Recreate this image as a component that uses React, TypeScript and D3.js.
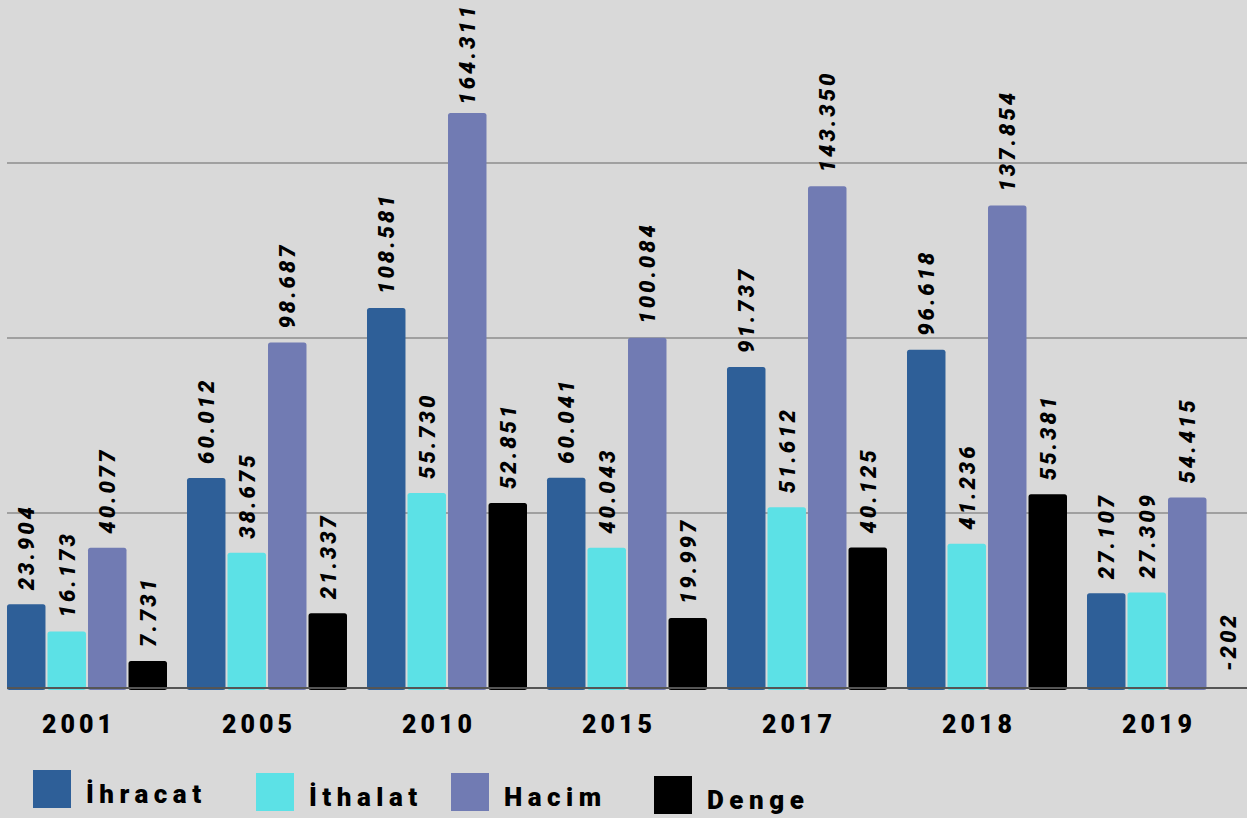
import React, { useRef, useEffect } from 'react';
import * as d3 from 'd3';

const width = 1247;
const height = 818;

const years = ['2001', '2005', '2010', '2015', '2017', '2018', '2019'];
const seriesNames = ['İhracat', 'İthalat', 'Hacim', 'Denge'];
const colors = ['#2e5f98', '#5ce1e6', '#717bb3', '#000000'];

// millions of $, shown with "." as thousands separator
const ihracat = [23904, 60012, 108581, 60041, 91737, 96618, 27107];
const ithalat = [16173, 38675, 55730, 40043, 51612, 41236, 27309];
const hacim = [40077, 98687, 164311, 100084, 143350, 137854, 54415];
const denge = [7731, 21337, 52851, 19997, 40125, 55381, -202];

const gridValues = [50000, 100000, 150000];

const series = [ihracat, ithalat, hacim, denge];

const trLocale = d3.formatLocale({
    decimal: ',',
    thousands: '.',
    grouping: [3],
    currency: ['', ''],
    minus: '-',
});
const fmt = trLocale.format(',d');

const baseY = 688;
const x0 = d3.scaleBand().domain(years).range([7, 1247]).paddingInner(20 / 180).paddingOuter(0);
const x1 = d3.scaleBand().domain(seriesNames).range([0, x0.bandwidth()]).paddingInner(0.05);
const y = d3.scaleLinear().domain([0, 688 / 3.5 * 1000]).range([baseY, 0]);

const fontFamily = 'Roboto, "DejaVu Sans", sans-serif';

export default function App() {
    const svgRef = useRef<SVGSVGElement>(null);

    useEffect(() => {
        document.body.style.margin = '0';
        const svg = d3.select(svgRef.current);
        svg.selectAll('*').remove();

        svg.append('rect')
            .attr('width', width)
            .attr('height', height)
            .attr('fill', '#d9d9d9');

        // grid
        svg.selectAll('.grid')
            .data(gridValues)
            .enter()
            .append('line')
            .attr('class', 'grid')
            .attr('x1', 7)
            .attr('x2', width)
            .attr('y1', d => y(d))
            .attr('y2', d => y(d))
            .attr('stroke', '#a0a0a0')
            .attr('stroke-width', 2);

        const groups = svg.selectAll('.year')
            .data(years)
            .enter()
            .append('g')
            .attr('class', 'year')
            .attr('transform', d => `translate(${x0(d)},0)`);

        groups.each(function (year, i) {
            const g = d3.select(this);
            seriesNames.forEach((name, s) => {
                const v = series[s][i];
                const bx = x1(name) as number;
                const bw = x1.bandwidth();
                const top = Math.min(y(v), y(0));
                const h = Math.abs(y(v) - y(0));
                if (h > 0.8) {
                    g.append('rect')
                        .attr('x', bx)
                        .attr('y', top)
                        .attr('width', bw)
                        .attr('height', h + 2)
                        .attr('rx', 2.5)
                        .attr('fill', colors[s]);
                }
                let ly = v >= 0 ? y(v) - 14 : y(0) - 17;
                const t = g.append('text')
                    .attr('dy', '0.36em')
                    .attr('text-anchor', 'start')
                    .attr('font-family', fontFamily)
                    .attr('font-weight', 900)
                    .attr('font-style', 'italic')
                    .attr('font-size', 22)
                    .attr('letter-spacing', 3)
                    .attr('fill', '#000')
                    .text(fmt(v));
                const len = (t.node() as SVGTextElement).getComputedTextLength();
                if (ly - len < 3) ly = len + 3;
                t.attr('transform', `translate(${bx + bw / 2},${ly}) rotate(-90)`);
            });
        });

        // baseline
        svg.append('line')
            .attr('x1', 7)
            .attr('x2', width)
            .attr('y1', baseY)
            .attr('y2', baseY)
            .attr('stroke', '#555')
            .attr('stroke-width', 2);

        // x labels
        svg.selectAll('.xl')
            .data(years)
            .enter()
            .append('text')
            .attr('class', 'xl')
            .attr('x', d => (x0(d) as number) + x0.bandwidth() / 2 - 8)
            .attr('y', 733)
            .attr('text-anchor', 'middle')
            .attr('font-family', fontFamily)
            .attr('font-weight', 900)
            .attr('font-size', 25)
            .attr('letter-spacing', 4)
            .attr('fill', '#000')
            .text(d => d);

        // legend
        const legendX = [33, 256, 451, 654];
        const legendY = [770, 773, 773, 776];
        const legend = svg.selectAll('.lg')
            .data(seriesNames)
            .enter()
            .append('g')
            .attr('class', 'lg')
            .attr('transform', (d, i) => `translate(${legendX[i]},${legendY[i]})`);
        legend.append('rect')
            .attr('width', 38)
            .attr('height', 38)
            .attr('fill', (d, i) => colors[i]);
        legend.append('text')
            .attr('x', 53)
            .attr('y', 33)
            .attr('font-family', fontFamily)
            .attr('font-weight', 900)
            .attr('font-size', 26)
            .attr('letter-spacing', 5.5)
            .attr('fill', '#000')
            .text(d => d);
    }, []);

    return (
        <svg width={width} height={height} ref={svgRef} style={{ display: 'block' }}></svg>
    );
}
